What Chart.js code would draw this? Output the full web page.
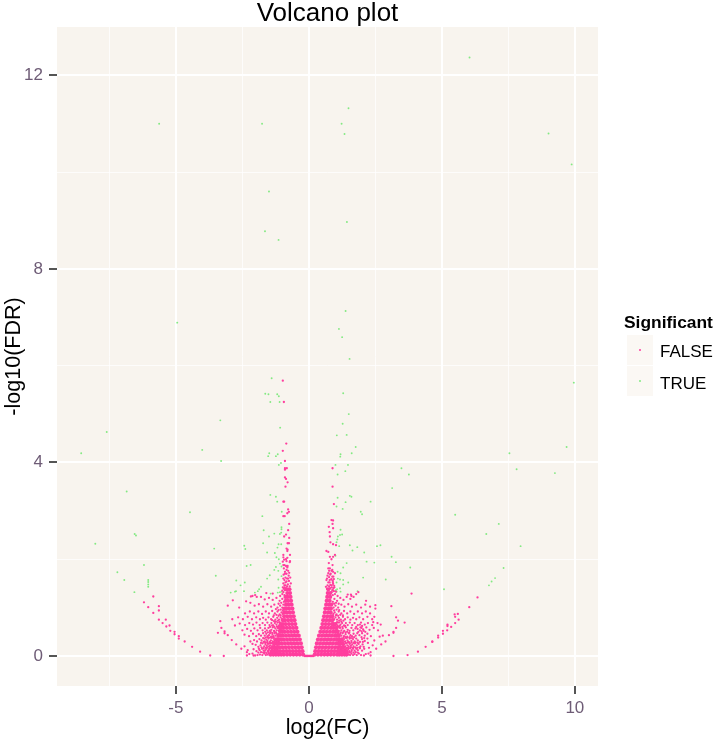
<!DOCTYPE html>
<html>
<head>
<meta charset="utf-8">
<title>Volcano plot</title>
<script src="https://cdn.jsdelivr.net/npm/chart.js@4/dist/chart.umd.min.js"></script>
<style>
    html, body { margin: 0; padding: 0; background: #fff; overflow: hidden; }
    #wrap { position: relative; width: 716px; height: 741px; font-family: "Liberation Sans", sans-serif; }
    #legendTitle { position: absolute; left: 624px; top: 312px; font-size: 17.4px; font-weight: bold; color: #000; }
    .key { position: absolute; left: 627px; width: 26px; height: 30px; background: #fbf8f4; }
    .key i { position: absolute; left: 12px; top: 14px; width: 2px; height: 2px; border-radius: 50%; }
    .keyText { position: absolute; left: 660px; font-size: 17px; color: #000; }
</style>
</head>
<body>
<div id="wrap">
    <canvas id="volcano" width="716" height="741"></canvas>
    <div id="legendTitle"></div>
</div>
<script>
const chartTitle = 'Volcano plot';
const xAxisTitle = 'log2(FC)';
const yAxisTitle = '-log10(FDR)';
const legendTitle = 'Significant';
const legendLabels = ['FALSE', 'TRUE'];

// Solid part of the two funnels
const falseCoreLeft = [
    [-.22,.03],[-.34,.03],[-.46,.03],[-.58,.03],[-.7,.03],[-.82,.03],[-.94,.03],[-1.04,.03],[-1.14,.03],[-1.24,.03],[-1.34,.03],[-1.44,.03],
    [-.24,.1],[-.36,.1],[-.48,.1],[-.6,.1],[-.72,.1],[-.84,.1],[-.96,.1],[-1.08,.1],[-1.18,.1],[-1.28,.1],[-1.38,.1],
    [-.27,.18],[-.39,.18],[-.51,.18],[-.63,.18],[-.75,.18],[-.87,.18],[-.99,.18],[-1.1,.18],[-1.2,.18],[-1.3,.18],[-1.38,.18],
    [-.3,.26],[-.42,.26],[-.54,.26],[-.66,.26],[-.78,.26],[-.9,.26],[-1.02,.26],[-1.12,.26],[-1.2,.26],[-1.28,.26],
    [-.34,.34],[-.46,.34],[-.58,.34],[-.7,.34],[-.82,.34],[-.94,.34],[-1.04,.34],[-1.14,.34],[-1.22,.34],
    [-.38,.42],[-.5,.42],[-.62,.42],[-.74,.42],[-.86,.42],[-.98,.42],[-1.06,.42],[-1.14,.42],
    [-.43,.5],[-.55,.5],[-.67,.5],[-.79,.5],[-.91,.5],[-1.0,.5],[-1.08,.5],
    [-.47,.58],[-.59,.58],[-.71,.58],[-.83,.58],[-.95,.58],[-1.02,.58],[-1.1,.58],
    [-.51,.66],[-.63,.66],[-.75,.66],[-.87,.66],[-.97,.66],[-1.05,.66],
    [-.54,.74],[-.66,.74],[-.78,.74],[-.9,.74],[-.98,.74],
    [-.57,.82],[-.69,.82],[-.81,.82],[-.93,.82],
    [-.6,.9],[-.72,.9],[-.84,.9],[-.92,.9],
    [-.62,.98],[-.74,.98],[-.85,.98],[-.92,.98],
    [-.65,1.06],[-.76,1.06],[-.86,1.06],
    [-.67,1.14],[-.78,1.14],[-.87,1.14],
    [-.69,1.22],[-.8,1.22],[-.88,1.22],
    [-.71,1.3],[-.81,1.3],
    [-.73,1.38],[-.83,1.38]
];
const falseCoreRight = [
    [.22,.03],[.34,.03],[.46,.03],[.58,.03],[.7,.03],[.82,.03],[.94,.03],[1.06,.03],[1.14,.03],[1.24,.03],[1.34,.03],[1.42,.03],
    [.24,.1],[.36,.1],[.48,.1],[.6,.1],[.72,.1],[.84,.1],[.96,.1],[1.08,.1],[1.14,.1],[1.22,.1],[1.32,.1],[1.4,.1],
    [.27,.18],[.39,.18],[.51,.18],[.63,.18],[.75,.18],[.87,.18],[.99,.18],[1.1,.18],[1.2,.18],[1.3,.18],
    [.3,.26],[.42,.26],[.54,.26],[.66,.26],[.78,.26],[.9,.26],[1.02,.26],[1.1,.26],[1.18,.26],[1.27,.26],
    [.34,.34],[.46,.34],[.58,.34],[.7,.34],[.82,.34],[.94,.34],[1.05,.34],[1.14,.34],[1.22,.34],
    [.38,.42],[.5,.42],[.62,.42],[.74,.42],[.86,.42],[.98,.42],[1.04,.42],[1.12,.42],
    [.43,.5],[.55,.5],[.67,.5],[.79,.5],[.91,.5],[1.0,.5],[1.08,.5],
    [.47,.58],[.59,.58],[.71,.58],[.83,.58],[.93,.58],[1.03,.58],
    [.51,.66],[.63,.66],[.75,.66],[.87,.66],[.92,.66],[1.0,.66],
    [.54,.74],[.66,.74],[.78,.74],[.88,.74],
    [.57,.82],[.69,.82],[.81,.82],[.88,.82],
    [.6,.9],[.72,.9],[.82,.9],
    [.62,.98],[.74,.98],[.83,.98],
    [.65,1.06],[.76,1.06],[.84,1.06],
    [.67,1.14],[.78,1.14],
    [.69,1.22],[.8,1.22],
    [.71,1.3],[.8,1.3],
    [.73,1.38]
];
// Flat strip at the foot of the funnel
const falseFoot = [
    [-.16,0],[-.13,0],[-.1,0],[-.07,0],[-.04,0],[-.01,0],[.02,0],[.05,0],[.08,0],[.11,0],[.14,0],[.17,0]
];
// Individual dots left of the solid part
const falseScatterLeft = [
    [-1.12,.02],[-1.16,.04],[-1.2,.02],[-1.23,.06],[-1.27,.03],[-1.3,.07],[-1.33,.02],[-1.36,.05],[-1.4,.02],[-1.44,.04],[-1.48,.02],[-1.52,.06],[-1.56,.03],[-1.62,.02],[-1.68,.05],[-1.75,.02],[-1.84,.03],[-1.93,.02],[-2.02,.01],
    [-1.14,.1],[-1.18,.13],[-1.22,.11],[-1.25,.15],[-1.29,.12],[-1.33,.16],[-1.36,.11],[-1.4,.14],[-1.44,.1],[-1.47,.16],[-1.51,.12],[-1.55,.1],[-1.59,.15],[-1.64,.12],[-1.7,.11],[-1.76,.15],[-1.85,.12],[-1.97,.1],
    [-1.15,.2],[-1.19,.23],[-1.22,.19],[-1.26,.25],[-1.3,.21],[-1.34,.24],[-1.38,.2],[-1.42,.26],[-1.46,.22],[-1.5,.2],[-1.54,.25],[-1.58,.21],[-1.63,.24],[-1.68,.2],[-1.74,.26],[-1.82,.22],[-1.9,.19],[-2.0,.23],
    [-1.13,.3],[-1.17,.33],[-1.21,.29],[-1.24,.36],[-1.28,.31],[-1.31,.35],[-1.35,.3],[-1.39,.37],[-1.43,.32],[-1.47,.29],[-1.52,.36],[-1.56,.31],[-1.6,.34],[-1.66,.3],[-1.72,.37],[-1.78,.32],[-1.86,.35],[-1.95,.3],[-2.06,.33],[-2.2,.3],
    [-1.09,.41],[-1.13,.45],[-1.17,.4],[-1.21,.46],[-1.25,.42],[-1.29,.47],[-1.33,.41],[-1.37,.45],[-1.42,.4],[-1.46,.47],[-1.5,.43],[-1.56,.41],[-1.6,.46],[-1.66,.42],[-1.72,.47],[-1.8,.42],[-1.88,.45],[-1.98,.41],[-2.1,.46],[-2.25,.41],[-2.42,.44],
    [-1.05,.53],[-1.09,.56],[-1.13,.52],[-1.17,.58],[-1.21,.53],[-1.26,.57],[-1.31,.52],[-1.36,.59],[-1.41,.54],[-1.47,.52],[-1.52,.58],[-1.58,.53],[-1.65,.57],[-1.74,.53],[-1.83,.58],[-1.93,.53],[-2.05,.57],[-2.18,.52],[-2.32,.56],[-2.5,.53],
    [-1.02,.64],[-1.07,.67],[-1.12,.63],[-1.17,.69],[-1.22,.65],[-1.28,.68],[-1.34,.63],[-1.41,.68],[-1.48,.64],[-1.56,.69],[-1.65,.64],[-1.74,.68],[-1.85,.64],[-1.97,.69],[-2.1,.65],[-2.24,.68],[-2.4,.64],[-2.6,.67],[-2.78,.63],
    [-1.02,.76],[-1.06,.8],[-1.12,.75],[-1.19,.79],[-1.26,.75],[-1.34,.81],[-1.42,.76],[-1.52,.8],[-1.62,.75],[-1.72,.79],[-1.84,.76],[-1.98,.8],[-2.14,.76],[-2.3,.81],[-2.48,.76],[-2.66,.8],[-2.88,.76],
    [-.98,.87],[-1.03,.9],[-1.1,.86],[-1.18,.92],[-1.28,.88],[-1.38,.93],[-1.5,.88],[-1.62,.92],[-1.76,.87],[-1.9,.92],[-2.06,.88],[-2.22,.92],[-2.4,.88],
    [-1.0,1.0],[-1.08,1.04],[-1.18,1.0],[-1.3,1.06],[-1.42,1.02],[-1.56,1.07],[-1.72,1.02],[-1.88,1.07],[-2.04,1.04],[-2.2,1.1],[-2.36,1.13],[-3.05,1.04],[-2.86,1.15],[-2.62,1.0],
    [-.94,1.12],[-1.0,1.18],[-1.1,1.14],[-1.22,1.2],[-1.36,1.16],[-1.5,1.2],[-1.66,1.17],[-1.8,1.22],[-1.96,1.22],[-2.02,1.26],[-2.12,1.24],[-2.18,1.23],[-1.36,1.29],[-1.6,1.3],
    [-.96,1.32],[-.98,1.42],[-.92,1.46],[-.88,1.52],[-.96,1.6],[-.82,1.6],[-.9,1.7],[-.76,1.66],[-.84,1.78],[-.8,1.86],[-.92,1.88],[-.98,1.95],[-.72,1.94],[-.86,2.0],
    // second pass, the gaps between the rows above
    [-1.45,.07],[-1.53,.09],[-1.6,.06],[-1.66,.08],[-1.72,.07],[-1.8,.08],[-1.9,.07],[-2.12,.05],[-2.24,.04],
    [-1.42,.17],[-1.49,.15],[-1.56,.18],[-1.62,.17],[-1.7,.16],[-1.78,.18],[-1.88,.15],[-2.08,.14],[-2.3,.12],
    [-1.37,.27],[-1.44,.27],[-1.5,.26],[-1.57,.28],[-1.64,.27],[-1.7,.29],[-1.8,.27],[-2.12,.25],[-2.42,.2],
    [-1.32,.38],[-1.38,.4],[-1.46,.38],[-1.54,.39],[-1.62,.38],[-1.68,.36],
    [-1.24,.49],[-1.3,.5],[-1.38,.48],[-1.44,.5],[-1.54,.49],[-1.64,.5],
    [-1.14,.6],[-1.2,.61],[-1.3,.6],[-1.38,.63],[-1.46,.6],
    [-1.1,.7],[-1.16,.73],[-1.24,.71],[-1.31,.72],[-1.38,.74],
    [-1.06,.84],[-1.14,.83],[-1.22,.85],[-1.32,.84],
    [-.98,.94],[-1.06,.96],[-1.14,.95],[-1.24,.97],
    [-.96,1.06],[-1.04,1.1],[-1.14,1.08],
    [-.92,1.26],[-1.0,1.28],[-1.08,1.24],[-.9,1.36],[-.94,1.39],[-1.0,1.35]
];
// Tower of dots above the left funnel
const falseTowerLeft = [
    [-.98,5.69],[-.94,5.25],[-.85,4.39],[-.98,4.24],[-.9,4.03],[-.9,3.88],[-.83,3.88],[-.9,3.85],[-.9,3.69],[-.86,3.66],[-.8,3.59],[-.88,3.5],
    [-.96,3.19],[-.93,3.19],[-.78,3.03],[-.75,2.98],[-.81,2.95],[-.96,2.89],[-.91,2.89],[-.74,2.73],[-.78,2.6],[-.93,2.47],[-.86,2.51],[-.74,2.44],
    [-.8,2.33],[-.75,2.33],[-.84,2.22],[-.8,2.2],[-.81,2.17],[-.96,2.09],[-.96,2.04],[-.71,2.09],[-.93,1.99],[-.81,2.03],[-.84,1.96],[-.71,1.96],[-.96,1.88],[-.86,1.86],[-.81,1.83],[-.94,1.81],
    [-.78,1.76],[-.9,1.74],[-.74,1.72],[-.84,1.7],[-.95,1.68],[-.7,1.62],[-.78,1.6],[-.88,1.62],[-.92,1.57],[-.75,1.55],[-.84,1.54],[-.68,1.5],[-.96,1.5],[-.79,1.48],[-.88,1.46],[-.72,1.44],[-.82,1.44],[-.92,1.42],[-.86,1.4]
];
// Dots right of the solid part
const falseScatterRight = [
    [1.18,.02],[1.22,.05],[1.26,.02],[1.3,.06],[1.34,.03],[1.38,.05],[1.42,.02],[1.46,.06],[1.5,.03],[1.55,.02],[1.6,.05],[1.66,.02],[1.72,.04],[1.8,.02],[1.88,.05],[1.96,.02],[2.07,.01],[2.32,.01],
    [1.16,.1],[1.2,.14],[1.24,.11],[1.28,.15],[1.32,.1],[1.36,.13],[1.4,.16],[1.44,.11],[1.48,.14],[1.52,.1],[1.56,.16],[1.61,.12],[1.66,.15],[1.72,.11],[1.78,.15],[1.84,.12],[1.92,.16],[2.0,.11],[2.08,.15],[2.32,.08],
    [1.13,.2],[1.17,.23],[1.21,.19],[1.25,.25],[1.29,.21],[1.33,.24],[1.37,.2],[1.41,.26],[1.45,.22],[1.5,.2],[1.54,.25],[1.58,.21],[1.63,.24],[1.68,.2],[1.73,.26],[1.8,.22],[1.87,.25],[1.94,.2],[2.02,.24],[2.53,.15],[2.4,.22],
    [1.12,.3],[1.16,.33],[1.2,.29],[1.24,.36],[1.28,.31],[1.32,.35],[1.36,.3],[1.4,.37],[1.45,.32],[1.5,.29],[1.54,.36],[1.6,.31],[1.66,.35],[1.72,.3],[1.78,.36],[1.84,.32],[1.92,.29],[2.0,.35],[2.1,.31],[2.2,.36],[2.72,.24],[2.88,.3],
    [1.06,.41],[1.1,.45],[1.14,.4],[1.18,.46],[1.22,.42],[1.27,.47],[1.32,.41],[1.38,.45],[1.44,.4],[1.5,.47],[1.56,.43],[1.62,.41],[1.68,.46],[1.76,.42],[1.82,.47],[1.9,.43],[1.86,.5],[1.92,.53],[2.0,.47],[2.1,.42],[2.2,.46],[2.33,.41],[3.01,.43],[2.78,.42],[2.66,.4],
    [1.02,.53],[1.07,.56],[1.12,.52],[1.17,.58],[1.22,.53],[1.27,.57],[1.33,.52],[1.39,.59],[1.46,.54],[1.53,.52],[1.6,.58],[1.67,.53],[1.75,.57],[1.78,.6],[1.83,.56],[1.94,.59],[2.04,.55],[2.16,.59],[2.28,.54],[2.44,.58],[2.6,.53],[3.18,.5],[3.18,.48],
    [.98,.64],[1.03,.67],[1.08,.63],[1.13,.69],[1.19,.65],[1.25,.68],[1.32,.63],[1.39,.68],[1.46,.64],[1.54,.69],[1.63,.64],[1.72,.68],[1.84,.64],[1.96,.69],[2.1,.65],[2.22,.68],[2.38,.64],[2.58,.68],[2.7,.65],[3.28,.58],
    [.95,.76],[1.0,.8],[1.06,.75],[1.13,.79],[1.2,.75],[1.28,.81],[1.36,.76],[1.46,.8],[1.56,.75],[1.66,.79],[1.78,.76],[1.9,.8],[2.04,.76],[2.2,.81],[2.38,.76],[2.46,.81],[2.42,.7],[3.28,.8],[3.35,.73],[3.6,.69],
    [.92,.87],[.97,.9],[1.04,.86],[1.12,.92],[1.22,.88],[1.32,.93],[1.44,.88],[1.56,.92],[1.7,.87],[1.84,.92],[2.0,.88],[2.14,.92],[2.3,.88],[2.5,.98],
    [.93,1.0],[1.0,1.04],[1.1,1.0],[1.22,1.06],[1.34,1.02],[1.48,1.07],[1.62,1.02],[1.78,1.06],[1.96,1.0],[2.12,1.06],[2.3,1.02],[2.5,1.05],[3.1,1.03],
    [.9,1.12],[.96,1.18],[1.06,1.14],[1.18,1.2],[1.3,1.16],[1.42,1.22],[1.56,1.18],[1.6,1.24],[1.46,1.27],[1.68,1.22],[1.78,1.28],[1.86,1.32],[1.58,1.27],[2.15,1.14],[3.86,1.29],
    [.86,1.32],[.92,1.4],[.86,1.46],[.9,1.52],[.96,1.42],[.84,1.58],[.92,1.64],[.78,1.52],[.82,1.7],[.76,1.76],[.88,1.78],
    // second pass, the gaps between the rows above
    [1.46,.08],[1.54,.07],[1.6,.09],[1.68,.07],[1.76,.08],[1.84,.07],[2.14,.04],[2.24,.05],
    [1.44,.17],[1.5,.16],[1.58,.18],[1.66,.17],[1.74,.18],[1.82,.17],[1.9,.18],[2.06,.19],[2.26,.17],
    [1.38,.27],[1.46,.28],[1.52,.27],[1.6,.28],[1.68,.27],[1.76,.28],[1.84,.27],[2.03,.29],[2.22,.27],
    [1.3,.38],[1.38,.39],[1.46,.38],[1.54,.39],[1.62,.37],[1.7,.39],[1.98,.39],[2.08,.37],[2.46,.32],
    [1.2,.49],[1.3,.5],[1.38,.49],[1.44,.5],[1.52,.48],[1.98,.51],[2.06,.52],[2.12,.5],
    [1.1,.6],[1.16,.62],[1.26,.6],[1.36,.62],[1.92,.65],[2.0,.62],[1.98,.58],
    [1.06,.7],[1.14,.73],[1.22,.71],[1.3,.73],
    [1.02,.84],[1.1,.83],[1.18,.85],[1.28,.84],
    [.95,.94],[1.04,.96],[1.14,.95],
    [.95,1.08],[1.02,1.1],[1.12,1.08],[.9,1.26],[.98,1.28],[1.08,1.24],[.88,1.36],[.94,1.34],[1.02,1.33]
];
const falseTowerRight = [
    [.89,3.88],[.89,3.5],[.94,3.14],[.85,2.81],[.91,2.8],[.75,2.67],[.89,2.73],[.91,2.64],[.78,2.56],[.79,2.47],[.81,2.35],[.91,2.31],[1.02,2.29],
    [.66,2.17],[.73,2.15],[.79,2.05],[.91,2.05],[.98,2.09],[.85,2.0],[.75,1.92],[.89,1.88],[.73,1.81],[.79,1.81],[.85,1.76],[.91,1.74],[.73,1.71],[.98,1.71],[.76,1.63],[.85,1.59],[.66,1.57],[.94,1.59],[.73,1.52],[.81,1.47],[.64,1.43],[.91,1.49],
    [.7,1.66],[.8,1.68],[.88,1.64],[.68,1.6],[.78,1.57],[.9,1.55],[.7,1.46],[.76,1.44],[.86,1.42],[.95,1.45],[.8,1.4],[.68,1.39],[.9,1.36]
];
// The two outer arcs
const falseArcLeft = [
    [-5.85,1.23],[-6.2,1.11],[-6.04,1.01],[-5.64,1.03],[-5.64,.94],[-5.85,.89],[-5.64,.75],[-5.38,.75],[-5.5,.68],[-5.24,.63],[-5.36,.61],[-5.21,.52],[-5.05,.5],[-5.05,.45],[-4.89,.41],[-4.89,.36],[-4.67,.3],[-4.39,.19],[-4.09,.09],[-3.71,.01],[-3.2,0],
    [-3.33,.72],[-3.29,.58],[-3.17,.51],[-3.17,.47],[-3.42,.48],[-3.05,.43],[-2.9,.33],[-2.73,.24],[-2.54,.15],[-2.33,.08],[-2.33,.01],[-2.08,.01]
];
const falseArcRight = [
    [6.34,1.21],[6.03,1.01],[5.6,.87],[5.48,.86],[5.5,.81],[5.63,.75],[5.5,.68],[5.21,.65],[5.21,.62],[5.35,.6],[5.2,.53],[5.04,.52],[5.04,.46],[4.86,.42],[4.86,.38],[4.64,.3],[4.64,.29],[4.39,.19],[4.1,.09],[3.71,.02],[3.18,0]
];
const trueTop = [
    [6.04,12.37],[-5.63,11.0],[-1.76,11.0],[1.49,11.32],[1.23,11.0],[1.34,10.79],[9.01,10.8],[9.88,10.16],[-1.5,9.6],[-1.65,8.78],[-1.14,8.6],[1.43,8.97],
    [1.38,7.13],[1.13,6.76],[1.25,6.59],[1.53,6.14],[-4.95,6.89],[-1.4,5.74],[-1.64,5.42],[-1.52,5.41],[-1.19,5.41],[-1.13,5.37],[-1.45,5.25],[-1.1,5.25],
    [1.29,5.43],[1.5,5.0],[1.27,4.8],[1.05,4.56],[1.42,4.57],[-3.33,4.87],[-1.08,4.72],[9.96,5.65],[9.69,4.32],[-7.6,4.63]
];
const trueMiddle = [
    [-8.56,4.19],[-4.01,4.26],[-3.3,4.03],[-6.85,3.4],[7.54,4.19],[7.81,3.86],[9.25,3.78],[3.48,3.88],[3.76,3.75],[1.76,4.32],[1.61,4.19],[1.19,4.17],[1.18,4.12],
    [-1.49,4.19],[-1.53,4.13],[-1.17,4.17],[-1.24,4.13],[-1.05,3.99],[-1.13,3.95],[1.0,3.95],[1.47,3.95],[1.37,3.82],[1.08,3.75],[3.13,3.47],
    [-1.45,3.33],[-1.24,3.29],[-1.19,3.19],[1.54,3.31],[1.6,3.29],[1.38,3.18],[1.08,3.27],[2.32,3.19],[1.04,3.09],[1.27,3.04],[1.95,2.98],[2.0,2.93],
    [-4.47,2.97],[-1.75,2.89],[-1.02,2.98],[5.5,2.92],[7.14,2.73],[6.67,2.52],[7.96,2.27],[-6.55,2.52],[-6.5,2.49],[-8.03,2.32]
];
const trueLower = [
    [-1.7,2.6],[-1.03,2.66],[-1.03,2.62],[-1.3,2.53],[-1.09,2.52],[-1.04,2.55],[-1.5,2.47],[-1.72,2.33],[-1.18,2.24],[-1.14,2.31],[-1.04,2.31],[-2.43,2.28],[-2.39,2.21],[-3.56,2.22],
    [-1.57,2.14],[-1.28,2.13],[-1.22,2.04],[-1.13,2.0],[-1.24,1.84],[-1.3,1.78],[-1.15,1.76],[-1.09,1.91],[-1.03,1.85],[-2.19,1.88],[-2.34,1.86],[-3.5,1.66],[-1.03,1.65],[-1.47,1.67],[-1.57,1.6],[-1.15,1.58],
    [-2.73,1.56],[-2.41,1.52],[-2.57,1.46],[-2.44,1.34],[-2.74,1.34],[-2.78,1.33],[-2.94,1.31],[-1.8,1.43],[-1.87,1.38],[-1.92,1.34],[-2.03,1.31],[-1.44,1.29],[-1.14,1.41],[-1.17,1.31],[-1.09,1.32],[-1.03,1.33],
    [-6.2,1.88],[-7.2,1.73],[-6.94,1.57],[-6.04,1.57],[-6.04,1.53],[-6.04,1.48],[-6.04,1.43],[-6.56,1.32],
    [1.19,2.61],[1.25,2.51],[1.17,2.5],[1.09,2.47],[1.07,2.41],[1.04,2.35],[1.14,2.27],[1.54,2.29],[1.64,2.18],[1.82,2.25],[2.08,2.14],[2.56,2.27],[2.69,2.29],[3.11,2.05],[3.27,1.94],[3.81,1.83],[2.17,1.95],[2.46,1.93],
    [1.0,2.07],[1.42,1.92],[1.29,1.83],[1.08,1.74],[1.19,1.71],[2.04,1.62],[2.89,1.58],[1.09,1.6],[1.17,1.58],[1.29,1.57],[1.48,1.52],[1.29,1.48],[1.04,1.52],[1.17,1.4],[1.01,1.36],[1.04,1.33],[1.06,1.38],[1.19,1.33],[1.83,1.34],
    [7.32,1.82],[7.0,1.61],[6.87,1.54],[6.77,1.46],[5.08,1.38]
];
const xTickStep = 2.5;
const yTickStep = 2;
const xRange = [-9.47, 10.87];
const yRange = [-0.62, 13];

const pink = '#ff3e9e';
const green = 'rgba(110, 232, 110, 0.85)';
const tickColor = '#6e5c76';
const panelColor = '#f8f4ee';

const toPoints = pairs => pairs.map(p => ({ x: p[0], y: p[1] }));

// Fill the plot panel before the grid goes on top
const panelBackground = {
    id: 'panelBackground',
    beforeDraw(chart) {
        const { ctx, chartArea } = chart;
        ctx.save();
        ctx.fillStyle = panelColor;
        ctx.fillRect(chartArea.left, chartArea.top, chartArea.width, chartArea.height);
        ctx.restore();
    }
};

const falseDots = falseScatterLeft.concat(falseTowerLeft, falseScatterRight, falseTowerRight, falseArcLeft, falseArcRight, falseFoot);
const trueDots = trueTop.concat(trueMiddle, trueLower);

const isMajorX = v => Math.abs(v % 5) < 1e-6;
const isMajorY = v => Math.abs(v % 4) < 1e-6;

const volcanoChart = new Chart(document.getElementById('volcano'), {
    type: 'scatter',
    data: {
        datasets: [
            { label: 'FALSE core', data: toPoints(falseCoreLeft.concat(falseCoreRight)), backgroundColor: pink, pointRadius: 2.1, borderWidth: 0 },
            { label: 'FALSE', data: toPoints(falseDots), backgroundColor: pink, pointRadius: 1.15, borderWidth: 0 },
            { label: 'TRUE', data: toPoints(trueDots), backgroundColor: green, pointRadius: 0.95, borderWidth: 0 }
        ]
    },
    options: {
        responsive: false,
        animation: false,
        layout: { padding: { left: 0, right: 118, top: 0, bottom: 0 } },
        plugins: {
            legend: { display: false },
            tooltip: { enabled: false },
            title: {
                display: true,
                text: chartTitle,
                fullSize: false,
                color: '#000',
                font: { family: 'Liberation Sans', size: 26, weight: 'normal', lineHeight: 1 },
                padding: { top: 1, bottom: 0 }
            }
        },
        scales: {
            x: {
                type: 'linear',
                min: xRange[0],
                max: xRange[1],
                afterFit(scale) { scale.height = 55; },
                border: { display: false },
                grid: {
                    color: c => isMajorX(c.tick.value) ? '#ffffff' : 'rgba(255,255,255,0.75)',
                    lineWidth: c => isMajorX(c.tick.value) ? 2 : 1,
                    tickColor: c => isMajorX(c.tick.value) ? '#555' : 'transparent',
                    tickWidth: 2,
                    tickLength: 8
                },
                ticks: {
                    stepSize: xTickStep,
                    includeBounds: false,
                    autoSkip: false,
                    maxRotation: 0,
                    padding: 4,
                    color: tickColor,
                    font: { family: 'Liberation Sans', size: 17 },
                    callback: v => isMajorX(v) ? String(v) : ''
                },
                title: {
                    display: true,
                    text: xAxisTitle,
                    color: '#000',
                    font: { family: 'Liberation Sans', size: 21.5 },
                    padding: { top: 0, bottom: 0 }
                }
            },
            y: {
                type: 'linear',
                min: yRange[0],
                max: yRange[1],
                afterFit(scale) { scale.width = 57; },
                border: { display: false },
                grid: {
                    color: c => isMajorY(c.tick.value) ? '#ffffff' : 'rgba(255,255,255,0.75)',
                    lineWidth: c => isMajorY(c.tick.value) ? 2 : 1,
                    tickColor: c => isMajorY(c.tick.value) ? '#555' : 'transparent',
                    tickWidth: 2,
                    tickLength: 8
                },
                ticks: {
                    stepSize: yTickStep,
                    includeBounds: false,
                    autoSkip: false,
                    padding: 6,
                    color: tickColor,
                    font: { family: 'Liberation Sans', size: 17 },
                    callback: v => isMajorY(v) ? String(v) : ''
                },
                title: {
                    display: true,
                    text: yAxisTitle,
                    color: '#000',
                    font: { family: 'Liberation Sans', size: 21.5 },
                    padding: { top: 1, bottom: 0 }
                }
            }
        }
    },
    plugins: [panelBackground]
});

// Legend sits outside the canvas so its text stays plain text
const wrap = document.getElementById('wrap');
document.getElementById('legendTitle').textContent = legendTitle;
const keyColors = [pink, green];
legendLabels.forEach((label, i) => {
    const key = document.createElement('div');
    key.className = 'key';
    key.style.top = (335 + i * 31) + 'px';
    key.innerHTML = `<i style="background:${keyColors[i]}"></i>`;
    wrap.appendChild(key);
    const text = document.createElement('div');
    text.className = 'keyText';
    text.style.top = (342 + i * 31.5) + 'px';
    text.textContent = label;
    wrap.appendChild(text);
});
</script>
</body>
</html>
